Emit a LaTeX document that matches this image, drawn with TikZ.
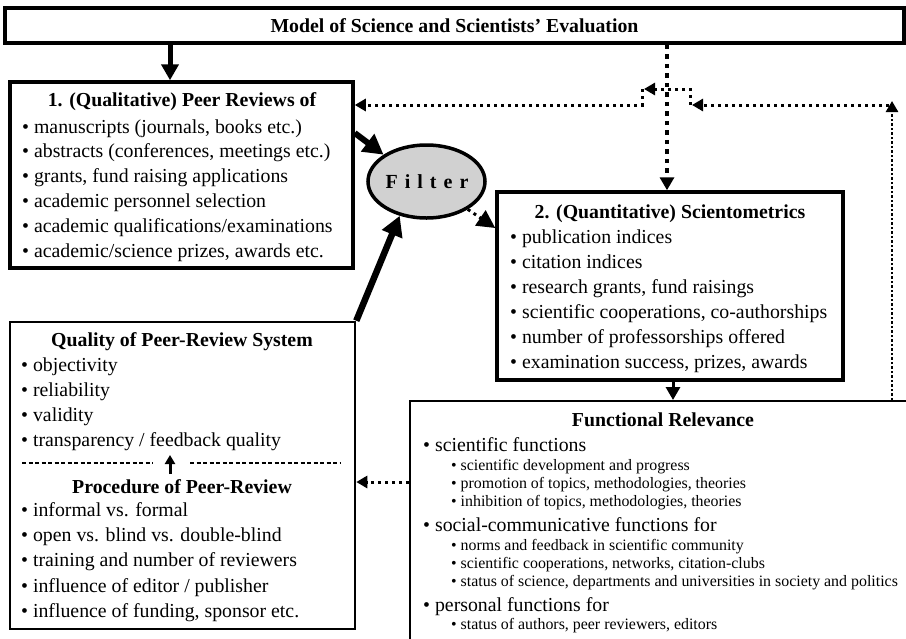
\documentclass[tikz,border=0pt]{standalone}
\usepackage{fontspec}
\setmainfont{Liberation Serif}
\usetikzlibrary{arrows.meta,shapes.geometric,calc}
\newcommand\itemlist[6]{%
  \foreach \t [count=\i] in {#6} {\node[#2, anchor=base west] (#1\i) at (#3,{-(#4+(\i-1)*#5)}) {\textbullet\ \t};}}
\begin{document}
\begin{tikzpicture}[x=1pt,y=1pt,
  box/.style={draw, rectangle, inner sep=0pt},
  txt/.style={inner sep=0pt, font=\fontsize{19.8}{24}\selectfont},
  hd/.style={inner sep=0pt, font=\fontsize{19.8}{24}\selectfont\bfseries},
  sml/.style={inner sep=0pt, font=\fontsize{15.9}{18}\selectfont},
  dotA/.style={line width=4pt, dash pattern=on 4.5pt off 5pt},
  dotB/.style={line width=3pt, dash pattern=on 3pt off 4pt},
  dotC/.style={line width=2.6pt, dash pattern=on 2.5pt off 2pt},
  tipS/.style={-{Triangle[length=11pt,width=12pt]}},
]
\useasboundingbox (0,0) rectangle (906,-638);
\clip (0,0) rectangle (906,-638);

% boxes
\node[box, line width=3.5pt, minimum width=899pt, minimum height=35pt] (top) at (454.5,-25.5) {};
\node[hd, anchor=base] (toptitle) at (454.5,-32) {Model of Science and Scientists’ Evaluation};

\node[box, line width=3.5pt, minimum width=343pt, minimum height=186pt] (b1) at (181.5,-175) {};
\node[hd, anchor=base] (b1title) at (182,-106) {1. (Qualitative) Peer Reviews of};
\itemlist{b1i}{txt}{22}{133}{24.8}{{manuscripts (journals, books etc.)},{abstracts (conferences, meetings etc.)},{grants, fund raising applications},{academic personnel selection},{academic qualifications/examinations},{academic/science prizes, awards etc.}}

\node[draw, ellipse, line width=3.5pt, fill=black!18, inner sep=0pt, minimum width=117pt, minimum height=73pt] (filter) at (426.5,-181.5) {};
\node[inner sep=0pt, font=\fontsize{20}{24}\selectfont\bfseries] (filtertext) at (427,-182) {F\kern7pt i\kern7pt l\kern7pt t\kern7pt e\kern7pt r};

\node[box, line width=3.5pt, minimum width=346pt, minimum height=188pt] (b2) at (670,-286) {};
\node[hd, anchor=base] (b2title) at (670,-218) {2. (Quantitative) Scientometrics};
\itemlist{b2i}{txt}{510}{243}{25}{{publication indices},{citation indices},{research grants, fund raisings},{scientific cooperations, co-authorships},{number of professorships offered},{examination success, prizes, awards}}

\node[box, line width=2.6pt, minimum width=345pt, minimum height=307pt] (q) at (182.5,-475.5) {};
\node[hd, anchor=base] (qtitle) at (182,-346) {Quality of Peer-Review System};
\itemlist{qi}{txt}{21}{371}{25}{{objectivity},{reliability},{validity},{transparency / feedback quality}}
\node[hd, anchor=base] (ptitle) at (182,-493) {Procedure of Peer-Review};
\itemlist{pi}{txt}{21}{516}{25.4}{{informal vs. formal},{open vs. blind vs. double-blind},{training and number of reviewers},{influence of editor / publisher},{influence of funding, sponsor etc.}}
\coordinate (d1) at (22,-463); \coordinate (d2) at (153,-463);
\coordinate (d3) at (190,-463); \coordinate (d4) at (340,-463);
\draw[line width=1.3pt, dash pattern=on 4pt off 2.5pt] (d1) -- (d2) (d3) -- (d4);
\coordinate (s1) at (170,-474); \coordinate (s2) at (170,-455);
\draw[line width=3pt, -{Triangle[length=9pt,width=10pt]}] (s1) -- (s2);

\node[box, line width=2pt, minimum width=506pt, minimum height=260pt] (fr) at (663,-531) {};
\node[hd, anchor=base] (frtitle) at (663,-426) {Functional Relevance};
\node[txt, anchor=base west] (fr1) at (423,-451) {\textbullet\ scientific functions};
\itemlist{fra}{sml}{451}{470.5}{18}{{scientific development and progress},{promotion of topics, methodologies, theories},{inhibition of topics, methodologies, theories}}
\node[txt, anchor=base west] (fr2) at (423,-531) {\textbullet\ social-communicative functions for};
\itemlist{frb}{sml}{451}{550.5}{18}{{norms and feedback in scientific community},{scientific cooperations, networks, citation-clubs},{status of science, departments and universities in society and politics}}
\node[txt, anchor=base west] (fr3) at (423,-611) {\textbullet\ personal functions for};
\itemlist{frc}{sml}{451}{629.5}{18}{{status of authors, peer reviewers, editors}}

% connectors
\coordinate (ax1) at (170,0);
\draw[line width=5pt, -{Triangle[length=16pt,width=17pt]}] (top.south -| ax1) -- (b1.north -| ax1);
\coordinate (p1) at (0,-133);
\draw[line width=6pt, -{Triangle[length=20pt,width=21pt]}] (b1.east |- p1) -- (filter.148);
\draw[line width=6.5pt, -{Triangle[length=20pt,width=21pt]}] (q.north east) -- (filter.232);
\coordinate (p2) at (0,-228);
\draw[dotB, -{Triangle[length=18pt,width=18pt]}] (filter.-34) -- (b2.west |- p2);
\coordinate (ax2) at (667,0);
\draw[dotA, -{Triangle[length=13pt,width=14pt]}] (top.south -| ax2) -- (b2.north -| ax2);
\coordinate (ax3) at (673,0);
\draw[line width=3pt, -{Triangle[length=13pt,width=14pt]}] (b2.south -| ax3) -- (fr.north -| ax3);
\coordinate (p3) at (0,-482);
\draw[dotB, tipS] (fr.west |- p3) -- (q.east |- p3);
\coordinate (ax4) at (892,0);
\coordinate (up1) at (892,-101);
\draw[dotC, tipS] (fr.north -| ax4) -- (up1);
\coordinate (h1) at (889,-105); \coordinate (h2) at (692,-105);
\draw[dotB, tipS] (h1) -- (h2);
\coordinate (h3) at (690,-105); \coordinate (h4) at (690,-89); \coordinate (h5) at (644,-89);
\draw[dotB, tipS] (h3) -- (h4) -- (h5);
\coordinate (h6) at (642,-89); \coordinate (h7) at (642,-105);
\draw[dotB, tipS] (h6) -- (h7) -- (b1.east |- h7);
\end{tikzpicture}
\end{document}
